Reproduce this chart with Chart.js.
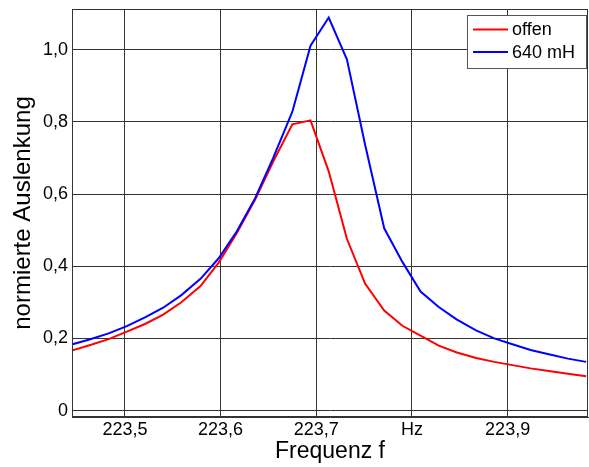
<!DOCTYPE html>
<html>
<head>
<meta charset="utf-8">
<script src="https://cdn.jsdelivr.net/npm/chart.js@4.4.0/dist/chart.umd.min.js"></script>
<style>
  html, body { margin: 0; padding: 0; background: #fff; }
  canvas { display: block; }
</style>
</head>
<body>
<canvas id="resonanz" width="589" height="467"></canvas>
<script>
// Frequenz in Hz
const freq = [
  223.444, 223.463, 223.483, 223.502, 223.521, 223.540, 223.559, 223.579,
  223.598, 223.617, 223.636, 223.655, 223.675, 223.694, 223.713, 223.732,
  223.751, 223.771, 223.790, 223.809, 223.828, 223.847, 223.867, 223.886,
  223.905, 223.924, 223.943, 223.963, 223.982
];

// normierte Auslenkung, Klemmen offen
const offen = [
  0.166, 0.181, 0.198, 0.219, 0.240, 0.266, 0.300, 0.345,
  0.410, 0.492, 0.584, 0.690, 0.793, 0.804, 0.663, 0.476,
  0.352, 0.277, 0.235, 0.208, 0.180, 0.161, 0.146, 0.135,
  0.126, 0.117, 0.110, 0.102, 0.095
];

// normierte Auslenkung, mit 640 mH
const mH640 = [
  0.183, 0.197, 0.214, 0.234, 0.258, 0.285, 0.320, 0.365,
  0.422, 0.497, 0.588, 0.700, 0.828, 1.011, 1.089, 0.973,
  0.737, 0.505, 0.412, 0.330, 0.287, 0.252, 0.222, 0.200,
  0.184, 0.168, 0.156, 0.144, 0.135
];

const xTicks = [223.5, 223.6, 223.7, 223.8, 223.9];
const yTicks = [0, 0.2, 0.4, 0.6, 0.8, 1.0];

const toPoints = (vals) => freq.map((f, i) => ({ x: f, y: vals[i] }));
const fmt = (v) => v === 0 ? '0' : v.toFixed(1).replace('.', ',');

// Rahmen um den Plotbereich + Legende
const frameAndLegend = {
  id: 'frameAndLegend',
  afterDraw(chart) {
    const ctx = chart.ctx;
    const a = chart.chartArea;
    ctx.save();
    ctx.strokeStyle = '#333';
    ctx.lineWidth = 1;
    ctx.strokeRect(a.left + 0.5, a.top + 0.5, a.right - a.left - 1, a.bottom - a.top - 1);

    // legend box
    const bx = 467, by = 15, bw = 119, bh = 53;
    ctx.fillStyle = '#fff';
    ctx.fillRect(bx, by, bw, bh);
    ctx.strokeStyle = '#555';
    ctx.strokeRect(bx + 0.5, by + 0.5, bw, bh);
    ctx.font = '18px "Liberation Sans", Arial, sans-serif';
    ctx.textBaseline = 'middle';
    ctx.textAlign = 'left';
    const rows = [chart.data.datasets[0], chart.data.datasets[1]];
    const rowY = [29.5, 52];
    rows.forEach((ds, i) => {
      ctx.strokeStyle = ds.borderColor;
      ctx.lineWidth = 2;
      ctx.beginPath();
      ctx.moveTo(473, rowY[i]);
      ctx.lineTo(508, rowY[i]);
      ctx.stroke();
      ctx.fillStyle = '#000';
      ctx.fillText(ds.label, 512, rowY[i] + 1);
    });
    ctx.restore();
  }
};

const ctx = document.getElementById('resonanz').getContext('2d');
new Chart(ctx, {
  type: 'line',
  data: {
    datasets: [
      {
        label: 'offen',
        data: toPoints(offen),
        borderColor: '#ff0000',
        borderWidth: 2,
        pointRadius: 0,
        tension: 0,
        order: 1
      },
      {
        label: '640 mH',
        data: toPoints(mH640),
        borderColor: '#0000ff',
        borderWidth: 2,
        pointRadius: 0,
        tension: 0,
        order: 0
      }
    ]
  },
  options: {
    responsive: false,
    animation: false,
    devicePixelRatio: 1,
    layout: { padding: { top: 9, right: 1, left: 0, bottom: 0 } },
    plugins: {
      legend: { display: false },
      tooltip: { enabled: false }
    },
    scales: {
      x: {
        type: 'linear',
        min: 223.4447,
        max: 223.984,
        afterFit: (s) => { s.height = 50; s.paddingLeft = 0; s.paddingRight = 0; },
        afterBuildTicks: (s) => { s.ticks = xTicks.map(v => ({ value: v })); },
        grid: { color: '#333', lineWidth: 1, drawTicks: false },
        border: { color: '#333' },
        ticks: {
          padding: 4,
          color: '#000',
          font: { family: '"Liberation Sans", Arial, sans-serif', size: 18, lineHeight: 1 },
          maxRotation: 0,
          callback: (v) => Math.abs(v - 223.8) < 1e-6 ? 'Hz' : v.toFixed(1).replace('.', ',')
        },
        title: {
          display: true,
          text: 'Frequenz f',
          color: '#000',
          font: { family: '"Liberation Sans", Arial, sans-serif', size: 23, lineHeight: 1 },
          padding: { top: 0, bottom: 4 }
        }
      },
      y: {
        min: -0.0177,
        max: 1.1126,
        afterFit: (s) => { s.width = 72; s.paddingTop = 0; s.paddingBottom = 0; },
        afterBuildTicks: (s) => { s.ticks = yTicks.map(v => ({ value: v })); },
        grid: { color: '#333', lineWidth: 1, drawTicks: false },
        border: { color: '#333' },
        ticks: {
          padding: 4,
          color: '#000',
          font: { family: '"Liberation Sans", Arial, sans-serif', size: 18, lineHeight: 1 },
          callback: (v) => fmt(v)
        },
        title: {
          display: true,
          text: 'normierte Auslenkung',
          color: '#000',
          font: { family: '"Liberation Sans", Arial, sans-serif', size: 24, lineHeight: 1 },
          padding: { top: 11, bottom: 0 }
        }
      }
    }
  },
  plugins: [frameAndLegend]
});
</script>
</body>
</html>
